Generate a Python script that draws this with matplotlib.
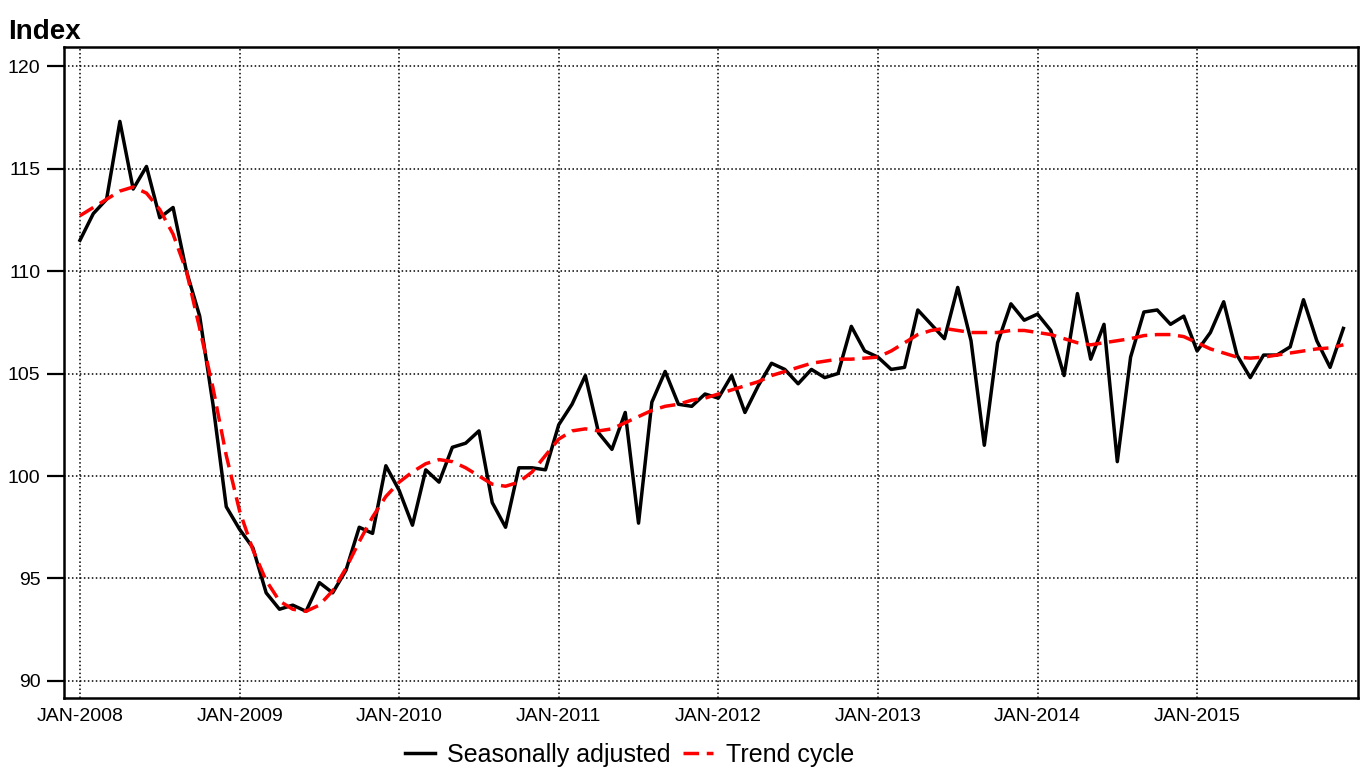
import numpy as np
import matplotlib
matplotlib.use('Agg')
import matplotlib.pyplot as plt

plt.rcParams['font.family'] = ['Liberation Sans', 'DejaVu Sans']

# ── Data: monthly index, Jan-2008 .. Dec-2015 ────────────────────────────────
seas_adj = [111.5, 112.8, 113.5, 117.3, 114.0, 115.1, 112.6, 113.1, 110.0, 107.8, 103.5, 98.5,
            97.4, 96.5, 94.3, 93.5, 93.7, 93.4, 94.8, 94.3, 95.4, 97.5, 97.2, 100.5,
            99.3, 97.6, 100.3, 99.7, 101.4, 101.6, 102.2, 98.7, 97.5, 100.4, 100.4, 100.3,
            102.5, 103.5, 104.9, 102.1, 101.3, 103.1, 97.7, 103.6, 105.1, 103.5, 103.4, 104.0,
            103.8, 104.9, 103.1, 104.4, 105.5, 105.2, 104.5, 105.2, 104.8, 105.0, 107.3, 106.1,
            105.8, 105.2, 105.3, 108.1, 107.4, 106.7, 109.2, 106.6, 101.5, 106.5, 108.4, 107.6,
            107.9, 107.1, 104.9, 108.9, 105.7, 107.4, 100.7, 105.8, 108.0, 108.1, 107.4, 107.8,
            106.1, 107.0, 108.5, 105.9, 104.8, 105.9, 105.9, 106.3, 108.6, 106.6, 105.3, 107.2]

trend = [112.7, 113.1, 113.5, 113.9, 114.1, 113.8, 113.0, 111.8, 110.0, 107.2, 104.3, 101.0,
         98.3, 96.4, 94.9, 93.9, 93.5, 93.4, 93.7, 94.4, 95.5, 96.8, 98.0, 99.0,
         99.7, 100.2, 100.6, 100.8, 100.7, 100.4, 100.0, 99.6, 99.5, 99.7, 100.2, 101.0,
         101.8, 102.2, 102.3, 102.2, 102.3, 102.6, 102.9, 103.2, 103.4, 103.5, 103.7, 103.8,
         104.0, 104.2, 104.4, 104.6, 104.9, 105.1, 105.3, 105.5, 105.6, 105.7, 105.7, 105.75,
         105.8, 106.1, 106.5, 106.9, 107.1, 107.2, 107.1, 107.0, 107.0, 107.0, 107.1, 107.1,
         107.0, 106.9, 106.7, 106.5, 106.4, 106.5, 106.6, 106.7, 106.85, 106.9, 106.9, 106.8,
         106.5, 106.2, 106.0, 105.8, 105.75, 105.8, 105.9, 106.0, 106.1, 106.2, 106.25, 106.4]

tick_labels = ['JAN-2008', 'JAN-2009', 'JAN-2010', 'JAN-2011',
               'JAN-2012', 'JAN-2013', 'JAN-2014', 'JAN-2015']
y_ticks = [90, 95, 100, 105, 110, 115, 120]

months = np.arange(len(seas_adj))

# ── Plot ──────────────────────────────────────────────────────────────────────
fig = plt.figure(figsize=(13.68, 7.74), dpi=100)
ax = fig.add_axes([0.0468, 0.0982, 0.9459, 0.8411])

ax.plot(months, seas_adj, color='black', linewidth=2.5, label='Seasonally adjusted', zorder=3)
ax.plot(months, trend, color='#ff0000', linewidth=2.5, linestyle=(0, (4.5, 2.2)),
        label='Trend cycle', zorder=4)

ax.set_xlim(-1.2, 96.1)
ax.set_ylim(89.17, 120.93)
ax.set_xticks(np.arange(0, 96, 12))
ax.set_xticklabels(tick_labels)
ax.set_yticks(y_ticks)

ax.grid(True, color='black', linestyle=(0, (1, 1.6)), linewidth=1.1)
ax.tick_params(axis='y', direction='out', length=12, width=1.6, labelsize=14, pad=5)
ax.tick_params(axis='x', length=0, labelsize=14, pad=7)
for sp in ax.spines.values():
    sp.set_linewidth(1.8)

fig.text(0.006, 0.975, 'Index', fontsize=20, fontweight='bold', va='top', ha='left')

fig.legend(loc='center', bbox_to_anchor=(0.46, 0.0245), ncol=2, frameon=False,
           fontsize=18, handlelength=1.2, handletextpad=0.5, columnspacing=0.5)

plt.savefig('out.png', dpi=100)
plt.close()
